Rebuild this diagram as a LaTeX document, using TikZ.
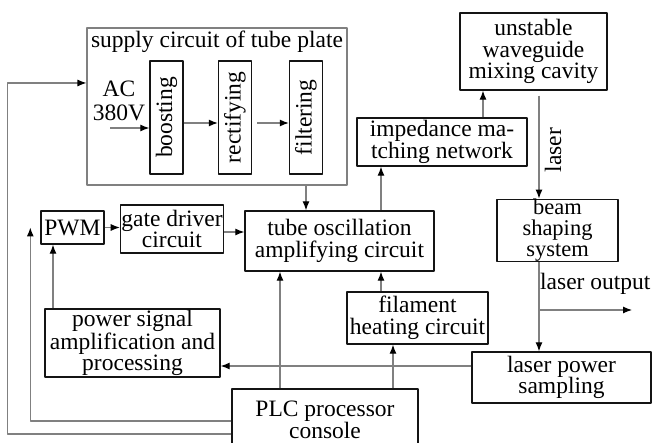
\documentclass[tikz,border=0pt]{standalone}
\usepackage{fontspec}
\setmainfont{Liberation Serif}
\usepackage{tikz}
\usetikzlibrary{arrows.meta,positioning,calc}
\definecolor{lsedge}{RGB}{20,20,20}
\definecolor{lswire}{RGB}{128,128,128}
\tikzset{
  lsbox/.style={
    draw=lsedge, line width=1.4pt, align=center, inner sep=1pt
  },
  grpbox/.style={draw=lswire, line width=1.1pt},
  vbox/.style={lsbox, rotate=90, minimum width=113pt, minimum height=33pt},
  arr/.style={-{Latex[length=9pt,width=7pt,color=black]}, draw=lswire, line width=1.1pt},
  txt/.style={inner sep=0pt, align=center},
  every picture/.append style={font=\fontsize{23.5}{21.5}\selectfont, line join=round}
}
\begin{document}
\begin{tikzpicture}[x=1pt, y=-1pt]
  \fill[white] (0,0) rectangle (654,443);
  \useasboundingbox (0,0) rectangle (654,443);
  \node[grpbox, minimum width=260pt, minimum height=157pt] (supply) at (217,106.5) {};
  \node[txt] (sptitle) at (217,42) {supply circuit of tube plate};
  \node[txt, font=\fontsize{23.5}{23.5}\selectfont] (ac) at (119,101) {AC\\380V};
  \node[vbox] (boost) at (166.5,117.5) {boosting};
  \node[vbox] (rect) at (235,117.5) {rectifying};
  \node[vbox] (filt) at (306,117.5) {filtering};
  \node[lsbox, minimum width=147pt, minimum height=77pt] (cavity) at (533.5,51.5) {unstable\\waveguide\\mixing cavity};
  \node[lsbox, minimum width=170pt, minimum height=48pt] (imped) at (442,142) {impedance ma-\\tching network};
  \node[lsbox, minimum width=121pt, minimum height=61pt, inner sep=0pt, font=\fontsize{22.5}{21}\selectfont] (beam) at (557.5,230.5) {beam\\shaping\\system};
  \node[lsbox, minimum width=63pt, minimum height=33pt] (pwm) at (72.5,227.5) {PWM};
  \node[lsbox, minimum width=102pt, minimum height=48pt] (gate) at (172,229) {gate driver\\circuit};
  \node[lsbox, minimum width=189pt, minimum height=60pt] (tube) at (339.5,241) {tube oscillation\\amplifying circuit};
  \node[lsbox, minimum width=141pt, minimum height=52pt] (fil) at (417.5,318) {filament\\heating circuit};
  \node[lsbox, minimum width=175pt, minimum height=68pt] (power) at (132.5,343) {power signal\\amplification and\\processing};
  \node[lsbox, minimum width=179pt, minimum height=51pt] (lps) at (561.5,377.5) {laser power\\sampling};
  \node[lsbox, minimum width=186pt, minimum height=62pt] (plc) at (325,420) {PLC processor\\console};
  \node[txt, rotate=90] (laserlbl) at (553,150) {laser};
  \node[txt, anchor=west] (outlbl) at (540,284) {laser output};

  \coordinate (acin) at (110,128);
  \draw[arr] (acin) -- (boost.north |- acin);
  \draw[arr] ($(boost.south)+(0,5.5)$) coordinate (b1) -- (rect.north |- b1);
  \draw[arr, shorten <=5pt] (rect.south |- b1) -- (filt.north |- b1);
  \draw[arr] (supply.south -| filt) -- (tube.north -| filt);
  \draw[arr] ($(plc.west)+(0,14)$) -| ($(supply.west)+(-79,-23.5)$) -- ($(supply.west)+(0,-23.5)$);
  \draw[arr] ($(plc.west)+(0,1)$) -| ($(pwm.west)+(-10,0)$);
  \draw[arr] (pwm.east) -- (gate.west |- pwm.east);
  \draw[arr] ($(gate.east)+(0,3)$) coordinate (g1) -- (tube.west |- g1);
  \coordinate (pw) at ($(pwm.south)+(-19.5,0)$);
  \draw[arr] (power.north -| pw) -- (pw);
  \draw[arr] ($(plc.north)+(-45,0)$) coordinate (c1) -- (tube.south -| c1);
  \draw[arr] ($(plc.north)+(68,0)$) coordinate (c2) -- (fil.south -| c2);
  \draw[arr] ($(fil.north)+(-36.5,0)$) coordinate (c3) -- (tube.south -| c3);
  \draw[arr] (tube.north -| c3) -- (imped.south -| c3);
  \draw[arr] ($(imped.north)+(41,0)$) coordinate (c4) -- (cavity.south -| c4);
  \draw[arr, shorten <=5pt] ($(cavity.south)+(5.5,0)$) coordinate (c5) -- (beam.north -| c5);
  \draw[arr] ($(beam.south)+(-18.5,0)$) coordinate (c6) -- (lps.north -| c6);
  \coordinate (out) at (632,310);
  \draw[arr] (c6 |- out) -- (out);
  \draw[arr] ($(lps.west)+(0,-11.5)$) coordinate (c7) -- (power.east |- c7);
\end{tikzpicture}
\end{document}
